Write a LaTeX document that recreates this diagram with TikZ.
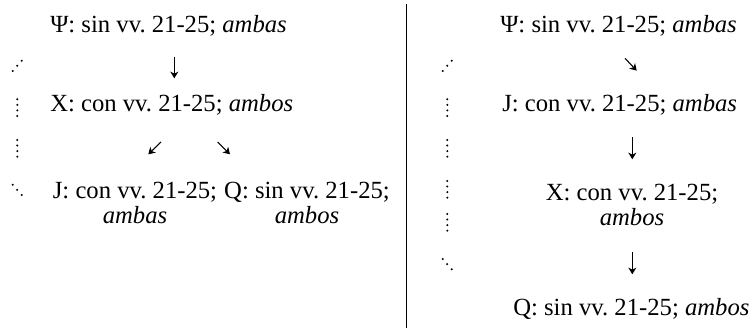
\documentclass[tikz,border=0pt]{standalone}
\usepackage{fontspec}
\setmainfont{Liberation Serif}
\usetikzlibrary{arrows.meta}
\frenchspacing
\begin{document}
\begin{tikzpicture}[x=0.75pt, y=-0.75pt,
    txt/.style={inner sep=0pt, font=\fontsize{18.5}{18.75}\selectfont},
    pair/.style={txt, align=center},
    arr/.style={line width=0.8pt, -{Stealth[length=5pt, width=6pt, inset=1.5pt]}}]
  \useasboundingbox (0,0) rectangle (753,328);
  % left stemma
  \node[txt, anchor=base west] (psiL) at (50,33) {Ψ: sin vv. 21-25; \emph{ambas}};
  \node[txt, anchor=base west] (xL) at (50,112) {X: con vv. 21-25; \emph{ambos}};
  \node[pair, anchor=base] (jL) at (135,223) {J: con vv. 21-25;\\ \emph{ambas}};
  \node[pair, anchor=base] (qL) at (307,223) {Q: sin vv. 21-25;\\ \emph{ambos}};
  \coordinate (a1) at (174.3,56.7); \coordinate (b1) at (174.3,78.3);
  \coordinate (a2) at (161,142); \coordinate (b2) at (148.3,154.3);
  \coordinate (a3) at (217.7,142); \coordinate (b3) at (230,154.3);
  \draw[arr] (a1) -- (b1);
  \draw[arr] (a2) -- (b2);
  \draw[arr] (a3) -- (b3);
  % separator
  \draw[line width=1pt] (406.7,4) -- (406.7,328);
  % right stemma
  \node[txt, anchor=base west] (psiR) at (500,33) {Ψ: sin vv. 21-25; \emph{ambas}};
  \node[txt, anchor=base west] (jR) at (502,112) {J: con vv. 21-25; \emph{ambas}};
  \node[pair, anchor=base] (xR) at (632,225) {X: con vv. 21-25;\\ \emph{ambos}};
  \node[txt, anchor=base west] (qR) at (513,315) {Q: sin vv. 21-25; \emph{ambos}};
  \coordinate (a4) at (625,58.3); \coordinate (b4) at (636.7,70.7);
  \coordinate (a5) at (632.3,137.3); \coordinate (b5) at (632.3,159.3);
  \coordinate (a6) at (632.3,252.3); \coordinate (b6) at (632.3,274.3);
  \draw[arr] (a4) -- (b4);
  \draw[arr] (a5) -- (b5);
  \draw[arr] (a6) -- (b6);
  % dotted margins
  \foreach \dx in {0,430} {
    \foreach \x/\y in {21.7/60.7, 17.3/65.7, 12.7/71}
      \fill (\x+\dx,\y) circle[radius=0.85pt];
  }
  \foreach \dx/\y in {0/99.3, 0/140, 430/99.3, 430/140, 430/181, 430/214} {
    \foreach \k in {0,...,3}
      \fill (17.3+\dx,\y+5.55*\k) circle[radius=0.85pt];
  }
  \foreach \dx/\y in {0/184.7, 430/259} {
    \foreach \k in {0,1,2}
      \fill (12.7+4.5*\k+\dx,\y+5.15*\k) circle[radius=0.85pt];
  }
\end{tikzpicture}
\end{document}
